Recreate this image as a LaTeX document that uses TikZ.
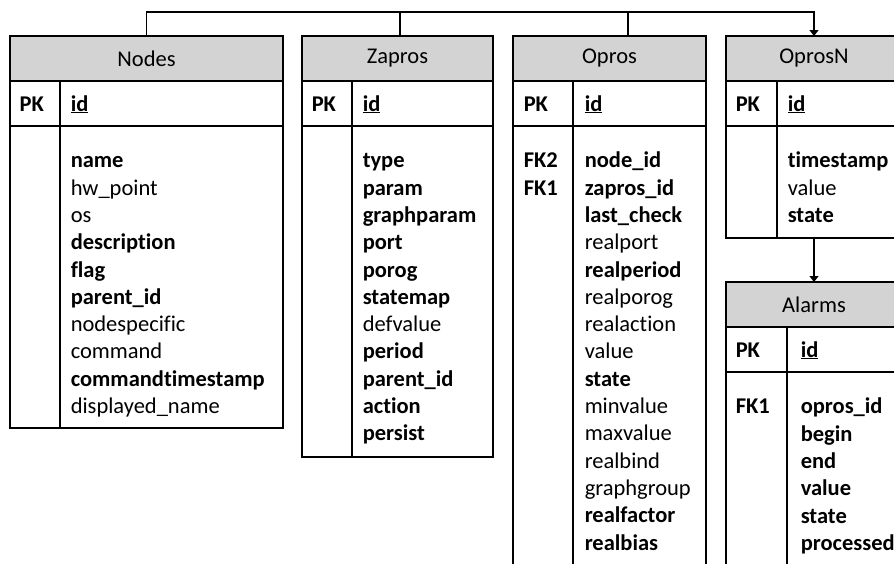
\documentclass[tikz,border=0pt]{standalone}
\usepackage{fontspec}
\setmainfont{Carlito}[Ligatures=NoCommon]
\usepackage{tikz}
\usetikzlibrary{arrows.meta,positioning}
\definecolor{headfill}{HTML}{D3D3D3}
\newcommand{\tblfont}{\fontsize{22.5}{27.3}\selectfont}

\begin{document}
\begin{tikzpicture}[
  x=1pt, y=-1pt, line width=1.5pt,
  hdr/.style={draw, fill=headfill, minimum height=45pt, inner sep=0pt, outer sep=0pt, font=\tblfont},
  pkrow/.style={draw, minimum height=45pt, inner sep=0pt, outer sep=0pt},
  body/.style={draw, inner sep=0pt, outer sep=0pt},
  keytxt/.style={anchor=base west, inner sep=0pt, font=\tblfont\bfseries},
  fields/.style={anchor=north west, align=left, inner sep=0pt, font=\tblfont},
  rel/.style={-{Triangle[length=6pt, width=9pt]}, line width=1.3pt}
]
  \path[use as bounding box, clip] (0,0) rectangle (894,563);

  % Nodes
  \node[hdr, minimum width=273pt] (nodesH) at (146.5,58.5) {Nodes};
  \node[pkrow, minimum width=273pt, below=0pt of nodesH] (nodesK) {};
  \node[body, minimum width=273pt, minimum height=302pt, below=0pt of nodesK] (nodesB) {};
  \draw ([xshift=50pt]nodesK.north west) -- ([xshift=50pt]nodesB.south west);
  \node[keytxt] (nodesPK) at ([xshift=9pt, yshift=-7.5pt]nodesK.west) {PK};
  \node[keytxt] (nodesId) at ([xshift=60pt, yshift=-7.5pt]nodesK.west) {\underline{id}};
  \node[fields] (nodesF) at ([xshift=60pt, yshift=-22pt]nodesB.north west)
    {\strut\textbf{name}\\hw\_point\\os\\\textbf{description}\\\textbf{flag}\\\textbf{parent\_id}\\nodespecific\\command\\\textbf{commandtimestamp}\\displayed\_name};

  % Zapros
  \node[hdr, minimum width=191pt] (zaprosH) at (397.5,58.5) {Zapros};
  \node[pkrow, minimum width=191pt, below=0pt of zaprosH] (zaprosK) {};
  \node[body, minimum width=191pt, minimum height=331pt, below=0pt of zaprosK] (zaprosB) {};
  \draw ([xshift=50pt]zaprosK.north west) -- ([xshift=50pt]zaprosB.south west);
  \node[keytxt] (zaprosPK) at ([xshift=9pt, yshift=-7.5pt]zaprosK.west) {PK};
  \node[keytxt] (zaprosId) at ([xshift=60pt, yshift=-7.5pt]zaprosK.west) {\underline{id}};
  \node[fields] (zaprosF) at ([xshift=60pt, yshift=-22pt]zaprosB.north west)
    {\strut\textbf{type}\\\textbf{param}\\\textbf{graphparam}\\\textbf{port}\\\textbf{porog}\\\textbf{statemap}\\defvalue\\\textbf{period}\\\textbf{parent\_id}\\\textbf{action}\\\textbf{persist}};

  % Opros
  \node[hdr, minimum width=193pt] (oprosH) at (609.5,58.5) {Opros};
  \node[pkrow, minimum width=193pt, below=0pt of oprosH] (oprosK) {};
  \node[body, minimum width=193pt, minimum height=440pt, below=0pt of oprosK] (oprosB) {};
  \draw ([xshift=60pt]oprosK.north west) -- ([xshift=60pt]oprosB.south west);
  \node[keytxt] (oprosPK) at ([xshift=10pt, yshift=-7.5pt]oprosK.west) {PK};
  \node[keytxt] (oprosId) at ([xshift=71pt, yshift=-7.5pt]oprosK.west) {\underline{id}};
  \node[fields, font=\tblfont\bfseries] (oprosFK) at ([xshift=10pt, yshift=-22pt]oprosB.north west) {\strut FK2\\FK1};
  \node[fields] (oprosF) at ([xshift=71pt, yshift=-22pt]oprosB.north west)
    {\strut\textbf{node\_id}\\\textbf{zapros\_id}\\\textbf{last\_check}\\realport\\\textbf{realperiod}\\realporog\\realaction\\value\\\textbf{state}\\minvalue\\maxvalue\\realbind\\graphgroup\\\textbf{realfactor}\\\textbf{realbias}};

  % OprosN
  \node[hdr, minimum width=176pt] (oprosnH) at (814,58.5) {OprosN};
  \node[pkrow, minimum width=176pt, below=0pt of oprosnH] (oprosnK) {};
  \node[body, minimum width=176pt, minimum height=112pt, below=0pt of oprosnK] (oprosnB) {};
  \draw ([xshift=51pt]oprosnK.north west) -- ([xshift=51pt]oprosnB.south west);
  \node[keytxt] (oprosnPK) at ([xshift=9pt, yshift=-7.5pt]oprosnK.west) {PK};
  \node[keytxt] (oprosnId) at ([xshift=61pt, yshift=-7.5pt]oprosnK.west) {\underline{id}};
  \node[fields] (oprosnF) at ([xshift=61pt, yshift=-22pt]oprosnB.north west)
    {\strut\textbf{timestamp}\\value\\\textbf{state}};

  % Alarms
  \node[hdr, minimum width=176pt] (alarmsH) at (814,304.5) {Alarms};
  \node[pkrow, minimum width=176pt, below=0pt of alarmsH] (alarmsK) {};
  \node[body, minimum width=176pt, minimum height=210pt, below=0pt of alarmsK] (alarmsB) {};
  \draw ([xshift=61pt]alarmsK.north west) -- ([xshift=61pt]alarmsB.south west);
  \node[keytxt] (alarmsPK) at ([xshift=9pt, yshift=-7.5pt]alarmsK.west) {PK};
  \node[keytxt] (alarmsId) at ([xshift=74pt, yshift=-7.5pt]alarmsK.west) {\underline{id}};
  \node[fields, font=\tblfont\bfseries] (alarmsFK) at ([xshift=9pt, yshift=-22pt]alarmsB.north west) {\strut FK1};
  \node[fields] (alarmsF) at ([xshift=74pt, yshift=-22pt]alarmsB.north west)
    {\strut\textbf{opros\_id}\\\textbf{begin}\\\textbf{end}\\\textbf{value}\\\textbf{state}\\\textbf{processed}};

  % relations
  \draw[rel] (nodesH.north) -- ++(0,-24) -| (oprosnH.north);
  \draw[line width=1.3pt] ([xshift=2.5pt]zaprosH.north) -- ++(0,-24);
  \draw[line width=1.3pt] ([xshift=18.5pt]oprosH.north) -- ++(0,-24);
  \draw[rel] (oprosnB.south) -- (alarmsH.north);
\end{tikzpicture}
\end{document}
